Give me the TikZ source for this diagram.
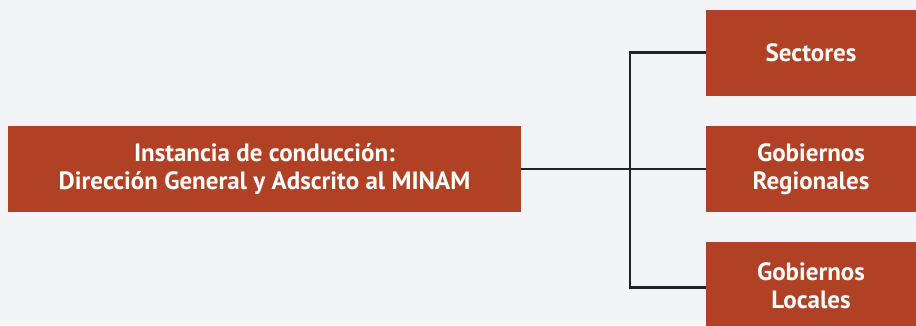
\documentclass[tikz,border=0pt]{standalone}
\usepackage{fontspec}
\setmainfont{PT Sans}
\usepackage{xcolor}
\usepackage{tikz}
\usetikzlibrary{positioning}
\definecolor{rust}{HTML}{B04125}
\definecolor{paper}{HTML}{F3F4F6}
\definecolor{ink}{HTML}{232323}

\begin{document}
\begin{tikzpicture}[
  x=1pt,y=-1pt,
  node distance=30pt,
  mainbox/.style={fill=rust,text=white,align=center,minimum width=513pt,minimum height=86pt,inner sep=0pt,font=\bfseries\fontsize{25}{28}\selectfont},
  unitbox/.style={fill=rust,text=white,align=center,minimum width=210pt,minimum height=86pt,inner sep=0pt,font=\bfseries\fontsize{25}{28}\selectfont},
  line/.style={draw=ink,line width=2.4pt}
]
\fill[paper] (0,0) rectangle (916,325);
\useasboundingbox (0,0) rectangle (916,325);
\clip (0,0) rectangle (916,325);
\node[mainbox] (instancia) at (264.5,169) {Instancia de conducción:\\Dirección General y Adscrito al MINAM};
\node[unitbox] (regionales) at (811,169) {Gobiernos\\Regionales};
\node[unitbox,above=of regionales] (sectores) {Sectores};
\node[unitbox,below=of regionales] (locales) {Gobiernos\\Locales};
\coordinate (branch) at (630,169);
\draw[line] (instancia.east) -- (regionales.west);
\draw[line] (sectores.west) -| (branch) |- ([yshift=-2pt]locales.west);
\end{tikzpicture}
\end{document}
